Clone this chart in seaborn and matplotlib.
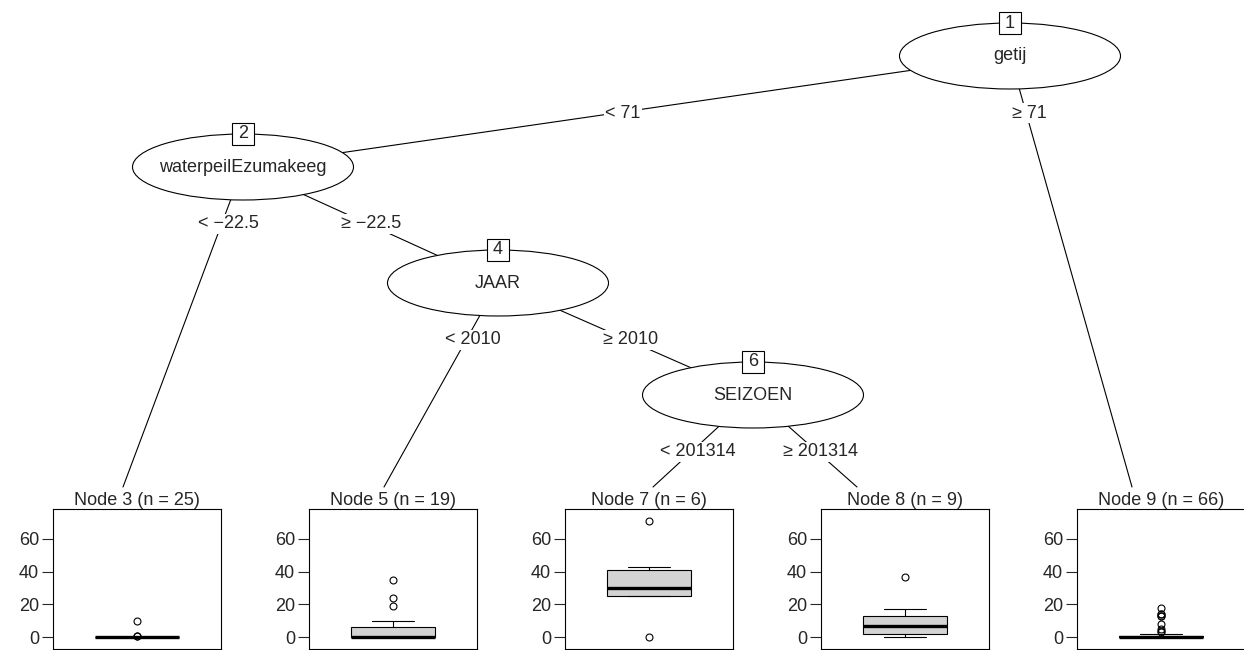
import numpy as np
import pandas as pd
import seaborn as sns
import matplotlib.pyplot as plt
from matplotlib.patches import Ellipse, Rectangle

# inner nodes: id and split variable
inner_ids = [1, 2, 4, 6]
inner_vars = ["getij", "waterpeilEzumakeeg", "JAAR", "SEIZOEN"]

# edges with split labels
edge_parent = [1, 1, 2, 2, 4, 4, 6, 6]
edge_child = [2, 9, 3, 4, 5, 6, 7, 8]
edge_labels = ["< 71", "\u2265 71", "< \u221222.5", "\u2265 \u221222.5",
               "< 2010", "\u2265 2010", "< 201314", "\u2265 201314"]

# terminal node responses
term_ids = [3, 5, 7, 8, 9]
node3 = [0, 0, 0, 0, 0, 0, 0, 0, 0, 0, 0, 0, 0, 0, 0, 0, 0, 0, 0, 0, 0, 0,
         1, 1, 10]
node5 = [0, 0, 0, 0, 0, 0, 0, 0, 0, 0, 1, 2, 4, 6, 7, 10, 19, 24, 35]
node7 = [0, 25, 25, 35, 43, 71]
node8 = [0, 1, 2, 5, 7, 10, 13, 17, 37]
node9 = [0, 0, 0, 0, 0, 0, 0, 0, 0, 0, 0, 0, 0, 0, 0, 0, 0, 0, 0, 0,
         0, 0, 0, 0, 0, 0, 0, 0, 0, 0, 0, 0, 0, 0, 0, 0, 0, 0, 0, 0,
         1, 1, 1, 1, 1, 1, 1, 1, 1, 1, 1, 1, 1, 2, 2, 2, 2,
         3, 4, 5, 8, 13, 13, 14, 14, 18]
term_values = [node3, node5, node7, node8, node9]
y_ticks = [0, 20, 40, 60]

# layout in pixels (figure is 1244 x 650)
W, H = 1244, 650
node_pos = {1: (1010, 56), 2: (243, 167), 4: (498, 283), 6: (753, 395),
            3: (123, 487), 5: (384, 487), 7: (653, 487), 8: (857, 487),
            9: (1132, 487)}
panel_left = [53, 309, 565, 821, 1077]
panel_w, panel_top, panel_bot = 168, 509, 649

sns.set_style("ticks")
plt.rcParams['font.family'] = ['Liberation Sans', 'DejaVu Sans']
fs = 13
lw = 0.8

fig = plt.figure(figsize=(W / 100, H / 100), dpi=100)
tree = fig.add_axes([0, 0, 1, 1])
tree.set_xlim(0, W)
tree.set_ylim(H, 0)
tree.axis('off')

# edges and their labels
for k, (p, c, lab) in enumerate(zip(edge_parent, edge_child, edge_labels)):
    x0, y0 = node_pos[p]
    x1, y1 = node_pos[c]
    tree.plot([x0, x1], [y0, y1], color='black', lw=lw, zorder=1)
    ly = y0 + 57
    lx = x0 + (x1 - x0) * (ly - y0) / (y1 - y0)
    shift = 7 if k % 2 == 0 else 3
    tree.text(lx + shift, ly, lab, fontsize=fs, ha='center', va='center', zorder=3,
              bbox=dict(facecolor='white', edgecolor='none', pad=1))

# inner nodes
for nid, var in zip(inner_ids, inner_vars):
    x, y = node_pos[nid]
    tree.add_patch(Ellipse((x, y), 221, 66, facecolor='white', edgecolor='black',
                           lw=lw, zorder=4))
    tree.text(x, y, var, fontsize=fs, ha='center', va='center', zorder=5)
    tree.add_patch(Rectangle((x - 11, y - 33 - 11), 22, 22, facecolor='white',
                             edgecolor='black', lw=lw, zorder=6))
    tree.text(x, y - 33, str(nid), fontsize=fs, ha='center', va='center', zorder=7)

# terminal boxplots
for nid, vals, left in zip(term_ids, term_values, panel_left):
    ax = fig.add_axes([left / W, 1 - panel_bot / H, panel_w / W,
                       (panel_bot - panel_top) / H])
    sns.boxplot(y=vals, ax=ax, color='#D3D3D3', linecolor='black', linewidth=lw,
                width=0.5, fliersize=5, saturation=1,
                medianprops=dict(linewidth=2.4, color='black'),
                flierprops=dict(marker='o', markerfacecolor='none',
                                markeredgecolor='black', markeredgewidth=lw))
    ax.set_xlim(-0.5, 0.5)
    ax.set_ylim(-7.1, 78.1)
    ax.set_yticks(y_ticks)
    ax.set_xticks([])
    ax.set_xlabel('')
    ax.set_ylabel('')
    ax.tick_params(axis='y', length=8, width=lw, labelsize=fs, pad=2)
    for sp in ax.spines.values():
        sp.set_linewidth(lw)
        sp.set_color('black')
    ax.set_title(f"Node {nid} (n = {len(vals)})", fontsize=fs, pad=2)

fig.savefig("out.png", dpi=100)
